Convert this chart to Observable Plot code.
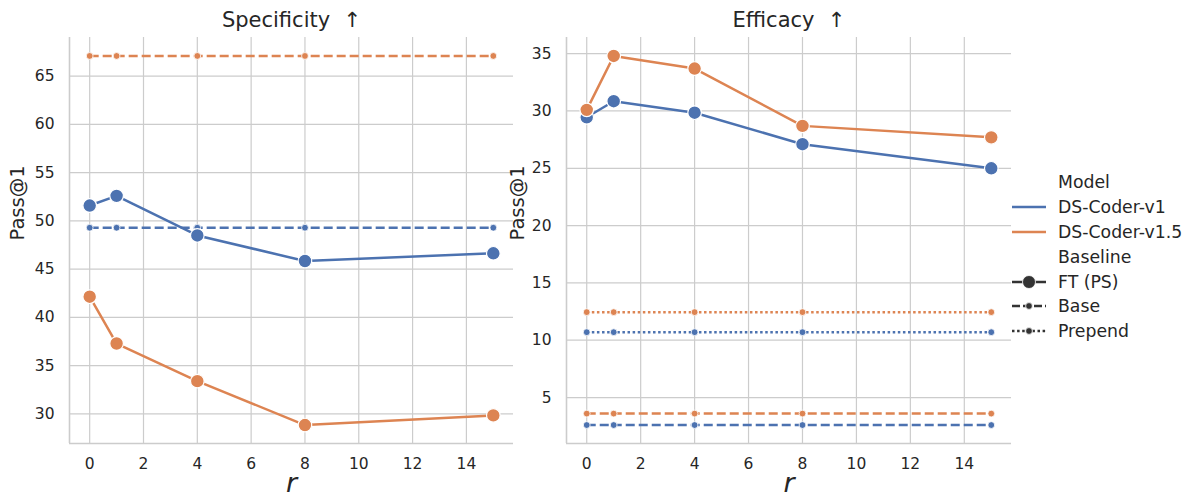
<!DOCTYPE html>
<html><head><meta charset="utf-8">
<script src="https://cdn.jsdelivr.net/npm/d3@7"></script>
<script src="https://cdn.jsdelivr.net/npm/@observablehq/plot@0.6"></script>
<style>
body{margin:0;background:#fff;font-family:"DejaVu Sans",sans-serif;}
#wrap{position:relative;width:1191px;height:497px;overflow:hidden;}
#wrap > svg{position:absolute;top:0;}
</style></head><body><div id="wrap"></div>
<script>
// ---- data ----
const rValues = [0, 1, 4, 8, 15];
const models = ["DS-Coder-v1", "DS-Coder-v1.5"];
const modelColors = ["#4c72b0", "#dd8452"];
const baselines = ["FT (PS)", "Base", "Prepend"];
const xTicks = [0, 2, 4, 6, 8, 10, 12, 14];

// Specificity
const specFT_v1 = [51.6, 52.6, 48.5, 45.85, 46.65];
const specFT_v15 = [42.15, 37.3, 33.4, 28.85, 29.85];
const specBase_v1 = 49.3;
const specBase_v15 = 67.1;
const specYTicks = [30, 35, 40, 45, 50, 55, 60, 65];

// Efficacy
const effFT_v1 = [29.45, 30.85, 29.85, 27.1, 25.0];
const effFT_v15 = [30.1, 34.8, 33.7, 28.7, 27.7];
const effBase_v1 = 2.6;
const effBase_v15 = 3.6;
const effPrepend_v1 = 10.7;
const effPrepend_v15 = 12.45;
const effYTicks = [5, 10, 15, 20, 25, 30, 35];

// ---- build tables ----
function series(model, baseline, vals) {
  return rValues.map((r, i) => ({model, baseline, r, value: Array.isArray(vals) ? vals[i] : vals}));
}
const specData = [
  ...series(models[0], "Base", specBase_v1),
  ...series(models[1], "Base", specBase_v15),
  ...series(models[0], "FT (PS)", specFT_v1),
  ...series(models[1], "FT (PS)", specFT_v15)
];
const effData = [
  ...series(models[0], "Base", effBase_v1),
  ...series(models[1], "Base", effBase_v15),
  ...series(models[0], "Prepend", effPrepend_v1),
  ...series(models[1], "Prepend", effPrepend_v15),
  ...series(models[0], "FT (PS)", effFT_v1),
  ...series(models[1], "FT (PS)", effFT_v15)
];

const GRID = "#cccccc";
const TEXT = "#262626";
const FONT = "DejaVu Sans";
const TICK_FS = 15.5;
const dashStyles = {"Base": "9,4", "Prepend": "2.5,2.6"};

function pad(ext) { const d = (ext[1] - ext[0]) * 0.05; return [ext[0] - d, ext[1] + d]; }

function panel({data, title, yTicks, width, marginLeft, marginRight}) {
  const xDom = pad(d3.extent(rValues));
  const yDom = pad(d3.extent(data, d => d.value));
  const marks = [
    Plot.gridX(xTicks, {stroke: GRID, strokeOpacity: 1, strokeWidth: 1.2}),
    Plot.gridY(yTicks, {stroke: GRID, strokeOpacity: 1, strokeWidth: 1.2}),
    Plot.ruleX([xDom[0]], {stroke: GRID, strokeWidth: 1.6}),
    Plot.ruleY([yDom[0]], {stroke: GRID, strokeWidth: 1.6}),
    // tick labels
    Plot.text(xTicks, {x: d => d, text: d => String(d), frameAnchor: "bottom", lineAnchor: "middle", dy: 21, fontSize: TICK_FS, fill: TEXT}),
    Plot.text(yTicks, {y: d => d, text: d => String(d), frameAnchor: "left", textAnchor: "end", lineAnchor: "middle", dx: -15, fontSize: TICK_FS, fill: TEXT})
  ];
  for (const b of ["Base", "Prepend"]) {
    const sub = data.filter(d => d.baseline === b);
    if (!sub.length) continue;
    marks.push(Plot.line(sub, {x: "r", y: "value", z: "model", stroke: "model", strokeWidth: 2.5, strokeDasharray: dashStyles[b], strokeLinecap: "butt"}));
    marks.push(Plot.dot(sub, {x: "r", y: "value", fill: "model", stroke: "white", strokeWidth: 0.8, r: 3.4}));
  }
  const ft = data.filter(d => d.baseline === "FT (PS)");
  marks.push(Plot.line(ft, {x: "r", y: "value", z: "model", stroke: "model", strokeWidth: 2.5}));
  marks.push(Plot.dot(ft, {x: "r", y: "value", fill: "model", stroke: "white", strokeWidth: 1.2, r: 6.8}));
  marks.push(Plot.text([title], {text: d => d, frameAnchor: "top", lineAnchor: "middle", dy: -17, fontSize: 21, fill: TEXT}));
  marks.push(Plot.text(["r"], {text: d => d, frameAnchor: "bottom", lineAnchor: "middle", dy: 40, fontSize: 27, fontStyle: "italic", fill: TEXT}));
  marks.push(Plot.text(["Pass@1"], {text: d => d, frameAnchor: "left", lineAnchor: "middle", rotate: -90, dx: -(marginLeft - 17), fontSize: 19.5, fill: TEXT}));
  return Plot.plot({
    width, height: 497,
    marginLeft, marginRight, marginTop: 37, marginBottom: 54,
    x: {domain: xDom, axis: null},
    y: {domain: yDom, axis: null},
    color: {domain: models, range: modelColors},
    style: {fontFamily: FONT, fontSize: "15px", background: "transparent", color: TEXT, overflow: "visible"},
    marks
  });
}

const wrap = document.getElementById("wrap");
const p1 = panel({data: specData, title: "Specificity\u00a0\u00a0\u2191", yTicks: specYTicks, width: 515, marginLeft: 69, marginRight: 2});
p1.style.left = "0px";
wrap.appendChild(p1);
const p2 = panel({data: effData, title: "Efficacy\u00a0\u00a0\u2191", yTicks: effYTicks, width: 513, marginLeft: 66, marginRight: 2});
p2.style.left = "500px";
wrap.appendChild(p2);

// ---- legend ----
const legendItems = [
  {type: "title", label: "Model", y: 182},
  {type: "color", label: models[0], color: modelColors[0], y: 207},
  {type: "color", label: models[1], color: modelColors[1], y: 232},
  {type: "title", label: "Baseline", y: 257},
  {type: "style", label: baselines[0], dash: null, r: 6.5, y: 282},
  {type: "style", label: baselines[1], dash: "8,3", r: 3.4, y: 306},
  {type: "style", label: baselines[2], dash: "2.5,2.6", r: 3.4, y: 331}
];
const ns = "http://www.w3.org/2000/svg";
const lg = document.createElementNS(ns, "svg");
lg.setAttribute("width", 191); lg.setAttribute("height", 497);
lg.style.left = "1000px"; lg.style.top = "0px";
const x0 = 12, x1 = 46, tx = 58;
for (const it of legendItems) {
  if (it.type !== "title") {
    const l = document.createElementNS(ns, "line");
    l.setAttribute("x1", x0); l.setAttribute("x2", x1); l.setAttribute("y1", it.y); l.setAttribute("y2", it.y);
    l.setAttribute("stroke", it.type === "color" ? it.color : "#333333"); l.setAttribute("stroke-width", 2.5);
    if (it.dash) l.setAttribute("stroke-dasharray", it.dash);
    lg.appendChild(l);
  }
  if (it.type === "style") {
    const c = document.createElementNS(ns, "circle");
    c.setAttribute("cx", (x0 + x1) / 2); c.setAttribute("cy", it.y); c.setAttribute("r", it.r);
    c.setAttribute("fill", "#333333"); c.setAttribute("stroke", "white"); c.setAttribute("stroke-width", 0.8);
    lg.appendChild(c);
  }
  const t = document.createElementNS(ns, "text");
  t.setAttribute("x", tx); t.setAttribute("y", it.y); t.setAttribute("dy", "0.35em");
  t.setAttribute("font-family", FONT); t.setAttribute("font-size", 17.3); t.setAttribute("fill", TEXT);
  t.textContent = it.label;
  lg.appendChild(t);
}
wrap.appendChild(lg);
</script></body></html>
